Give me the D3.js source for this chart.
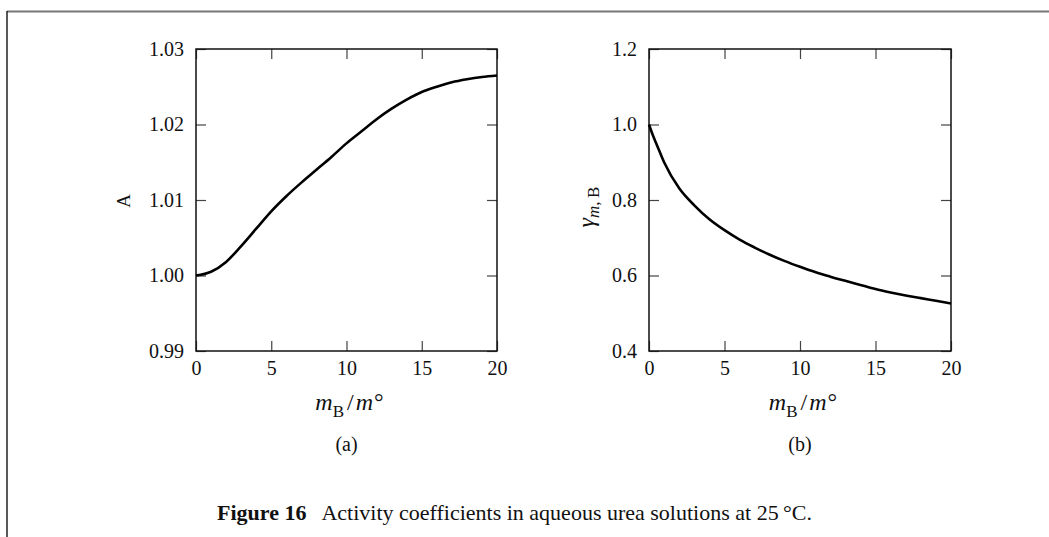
<!DOCTYPE html>
<html>
<head>
<meta charset="utf-8">
<script src="https://cdn.jsdelivr.net/npm/d3@7"></script>
<style>
  html, body { margin: 0; padding: 0; background: #fff; }
  svg { display: block; }
  text { font-family: "Liberation Serif", "DejaVu Serif", serif; fill: #111; }
</style>
</head>
<body>
<svg id="chart" width="1049" height="537"></svg>
<script>
// ---- data ----
const molalityA = [0, 1, 2, 3, 4, 5, 6, 7, 8, 9, 10, 11, 12, 13, 14, 15, 16, 17, 18, 19, 20];
const activityA = [1.0000, 1.0005, 1.0018, 1.0039, 1.0062, 1.0085, 1.0105, 1.0123, 1.0140, 1.0157, 1.0175,
                   1.0191, 1.0207, 1.0221, 1.0233, 1.0243, 1.0250, 1.0256, 1.0260, 1.0263, 1.0265];
const molalityB = [0, 0.25, 0.5, 1, 2, 3, 4, 5, 6, 7, 8, 9, 10, 11, 12, 13, 14, 15, 16, 17, 18, 19, 20];
const gammaB    = [1.000, 0.972, 0.948, 0.900, 0.831, 0.786, 0.749, 0.720, 0.695, 0.674, 0.655, 0.638, 0.623,
                   0.609, 0.597, 0.586, 0.575, 0.564, 0.555, 0.547, 0.540, 0.533, 0.526];
const xTicks  = [0, 5, 10, 15, 20];
const yTicksA = [0.99, 1.00, 1.01, 1.02, 1.03];
const yTicksB = [0.4, 0.6, 0.8, 1.0, 1.2];
const captionBold = "Figure 16";
const captionText = "Activity coefficients in aqueous urea solutions at 25\u2009\u00B0C.";

const svg = d3.select("#chart");

// frame lines
svg.append("line").attr("x1", 7).attr("x2", 1049).attr("y1", 11.5).attr("y2", 11.5)
  .attr("stroke", "#777").attr("stroke-width", 2);
svg.append("line").attr("x1", 7).attr("x2", 7).attr("y1", 11).attr("y2", 537)
  .attr("stroke", "#222").attr("stroke-width", 1.5);

function panel(opts) {
  const { x0, x1, y0, y1, xs, ys, yDomain, yTicks, yFmt, subLabel } = opts;
  const x = d3.scaleLinear().domain([0, 20]).range([x0, x1]);
  const y = d3.scaleLinear().domain(yDomain).range([y1, y0]);
  const g = svg.append("g");

  const styleAxis = (sel, showText) => {
    sel.select(".domain").remove();
    sel.selectAll(".tick line").attr("stroke", "#444").attr("stroke-width", 1.2);
    sel.selectAll(".tick text").style("font-size", "20px").style("font-family", '"Liberation Serif", serif').attr("fill", "#111");
    if (!showText) sel.selectAll(".tick text").remove();
  };

  g.append("g").attr("transform", `translate(0,${y1})`)
    .call(d3.axisBottom(x).tickValues(xTicks).tickSize(-10).tickPadding(10).tickFormat(d3.format("d")))
    .call(s => styleAxis(s, true));
  g.append("g").attr("transform", `translate(0,${y0})`)
    .call(d3.axisTop(x).tickValues(xTicks).tickSize(-10))
    .call(s => styleAxis(s, false));
  g.append("g").attr("transform", `translate(${x0},0)`)
    .call(d3.axisLeft(y).tickValues(yTicks).tickSize(-10).tickPadding(12).tickFormat(d3.format(yFmt)))
    .call(s => styleAxis(s, true));
  g.append("g").attr("transform", `translate(${x1},0)`)
    .call(d3.axisRight(y).tickValues(yTicks).tickSize(-10))
    .call(s => styleAxis(s, false));

  g.append("rect").attr("x", x0).attr("y", y0).attr("width", x1 - x0).attr("height", y1 - y0)
    .attr("fill", "none").attr("stroke", "#111").attr("stroke-width", 1.5);

  const line = d3.line().x((d, i) => x(xs[i])).y(d => y(d)).curve(d3.curveMonotoneX);
  g.append("path").datum(ys).attr("d", line)
    .attr("fill", "none").attr("stroke", "#000").attr("stroke-width", 2.6).attr("stroke-linejoin", "round");

  // x axis label m_B / m°
  const cx = (x0 + x1) / 2 + 3;
  const xl = g.append("text").attr("x", cx).attr("y", y1 + 59).attr("text-anchor", "middle")
    .style("font-size", "24px");
  xl.append("tspan").style("font-style", "italic").text("m");
  xl.append("tspan").attr("dy", 7).style("font-size", "17px").text("B");
  xl.append("tspan").attr("dy", -7).attr("dx", 3).text("/");
  xl.append("tspan").attr("dx", 2).style("font-style", "italic").text("m");
  xl.append("tspan").attr("dx", 1).text("\u00B0");

  g.append("text").attr("x", cx - 3).attr("y", y1 + 100).attr("text-anchor", "middle")
    .style("font-size", "20px").text(subLabel);
  return g;
}

const gA = panel({ x0: 196, x1: 497, y0: 49, y1: 351, xs: molalityA, ys: activityA,
  yDomain: [0.99, 1.03], yTicks: yTicksA, yFmt: ".2f", subLabel: "(a)" });
gA.append("text").attr("transform", "translate(130,201) rotate(-90)").attr("text-anchor", "middle")
  .style("font-size", "19px").text("A");

const gB = panel({ x0: 649, x1: 951, y0: 49, y1: 351, xs: molalityB, ys: gammaB,
  yDomain: [0.4, 1.2], yTicks: yTicksB, yFmt: ".1f", subLabel: "(b)" });
const yl = gB.append("text").attr("transform", "translate(594,207) rotate(-90)").attr("text-anchor", "middle")
  .style("font-size", "24px");
yl.append("tspan").style("font-style", "italic").text("\u03B3");
yl.append("tspan").attr("dy", 5).style("font-size", "17px").style("font-style", "italic").text("m");
yl.append("tspan").style("font-size", "17px").text(",\u2009B");

// caption
const cap = svg.append("text").attr("x", 217).attr("y", 520).style("font-size", "22px");
cap.append("tspan").style("font-weight", "bold").text(captionBold);
cap.append("tspan").attr("dx", 15).text(captionText);
</script>
</body>
</html>
